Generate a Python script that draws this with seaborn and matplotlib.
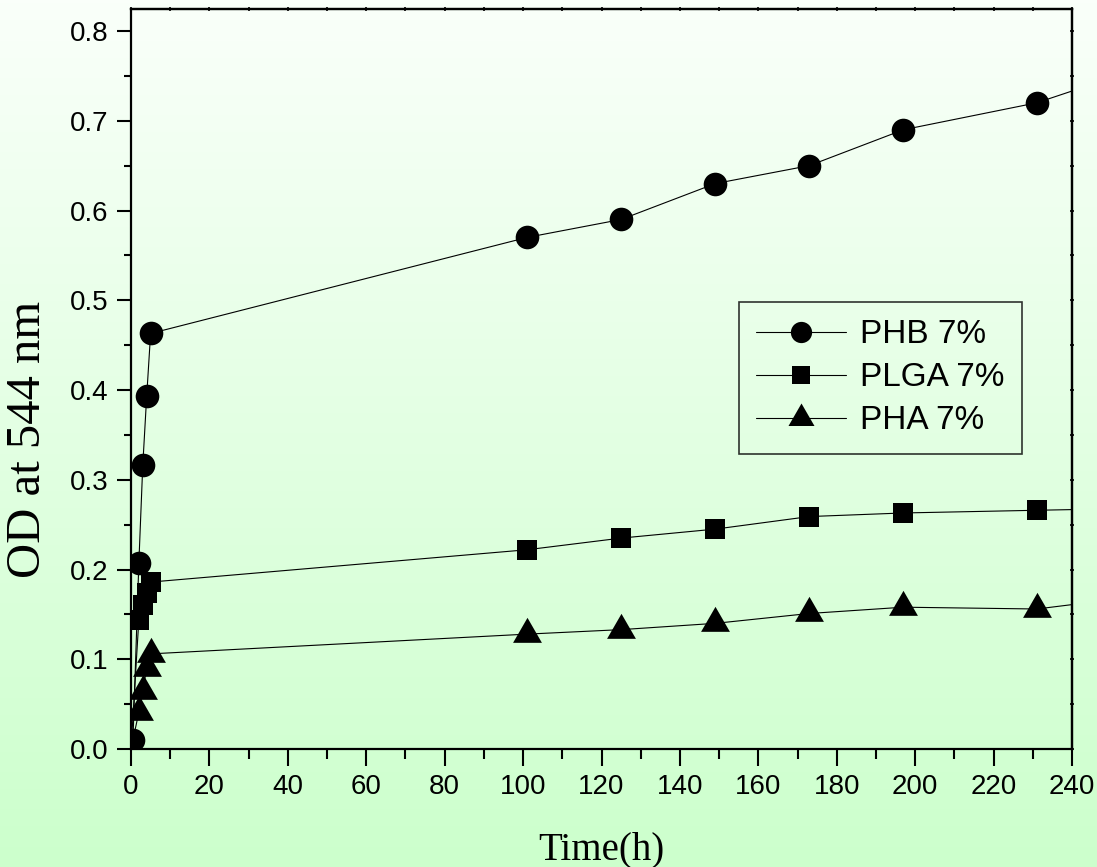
import numpy as np
import pandas as pd
import seaborn as sns

import matplotlib
# no display in the sandbox
matplotlib.use('Agg')
import matplotlib.pyplot as plt
from matplotlib.ticker import MultipleLocator
from matplotlib.colors import LinearSegmentedColormap

# time (h) and OD readings; the last point of each run lies past 240 h and is clipped
phb_time = [0.5, 2, 3, 4, 5, 101, 125, 149, 173, 197, 231, 255]
phb_od = [0.010, 0.207, 0.316, 0.393, 0.463, 0.570, 0.590, 0.630, 0.650, 0.690, 0.720, 0.755]

plga_time = [0, 2, 3, 4, 5, 101, 125, 149, 173, 197, 231, 255]
plga_od = [0.0, 0.144, 0.160, 0.174, 0.186, 0.222, 0.235, 0.245, 0.259, 0.263, 0.266, 0.268]

pha_time = [0, 2, 3, 4, 5, 101, 125, 149, 173, 197, 231, 255]
pha_od = [0.0, 0.041, 0.065, 0.090, 0.106, 0.128, 0.133, 0.140, 0.151, 0.158, 0.156, 0.169]

series_names = ["PHB 7%", "PLGA 7%", "PHA 7%"]


def build_frame():
    frames = []
    for name, t, od in zip(series_names,
                           [phb_time, plga_time, pha_time],
                           [phb_od, plga_od, pha_od]):
        frames.append(pd.DataFrame({"time": t, "od": od, "sample": name}))
    return pd.concat(frames, ignore_index=True)


df = build_frame()

sns.set_style("ticks")
plt.rcParams['font.family'] = ['Liberation Sans', 'DejaVu Sans']
for key in ['text.color', 'axes.labelcolor', 'xtick.color', 'ytick.color', 'axes.edgecolor']:
    plt.rcParams[key] = 'black'

fig = plt.figure(figsize=(10.97, 8.67), dpi=100)

# light green vertical gradient behind everything
bg = fig.add_axes([0, 0, 1, 1], zorder=-10)
grad = np.linspace(0, 1, 256).reshape(-1, 1)
cmap = LinearSegmentedColormap.from_list("bg", ["#fafffa", "#ccffcc"])
bg.imshow(grad, aspect='auto', cmap=cmap, extent=[0, 1, 0, 1], origin='upper')
bg.axis('off')

ax = fig.add_axes([131 / 1097, 1 - 749 / 867, 941 / 1097, 739.7 / 867])
ax.set_facecolor('none')

styles = {
    "PHB 7%": dict(marker='o', markersize=17, zorder=4),
    "PLGA 7%": dict(marker='s', markersize=15, zorder=3),
    "PHA 7%": dict(marker=(3, 0, 0), markersize=24, zorder=3),
}
for name in series_names:
    sub = df[df["sample"] == name]
    sns.lineplot(x="time", y="od", data=sub, ax=ax, color='black', linewidth=0.8,
                 markeredgewidth=0, errorbar=None, label=name, **styles[name])

ax.set_xlim(0, 240)
ax.set_ylim(0, 0.8242)
ax.xaxis.set_major_locator(MultipleLocator(20))
ax.xaxis.set_minor_locator(MultipleLocator(10))
ax.yaxis.set_minor_locator(MultipleLocator(0.05))
ax.set_yticks(np.arange(0, 0.81, 0.1))
ax.set_yticklabels([f"{v:.1f}" for v in np.arange(0, 0.81, 0.1)])

for s in ax.spines.values():
    s.set_linewidth(1.6)
    s.set_color('black')
ax.tick_params(axis='x', which='major', direction='out', length=12, width=1.5, labelsize=20, pad=6)
ax.tick_params(axis='x', which='minor', direction='out', length=7, width=1.5)
ax.tick_params(axis='y', which='major', direction='out', length=10, width=1.5, labelsize=20, pad=6)
ax.tick_params(axis='y', which='minor', direction='out', length=5, width=1.5)

# tiny ticks on the top and right frame
top = ax.secondary_xaxis('top')
top.xaxis.set_major_locator(MultipleLocator(20))
top.xaxis.set_minor_locator(MultipleLocator(10))
top.tick_params(which='both', direction='inout', length=3, width=1.2, labeltop=False)
top.spines['top'].set_linewidth(1.6)
right = ax.secondary_yaxis('right')
right.yaxis.set_major_locator(MultipleLocator(0.1))
right.yaxis.set_minor_locator(MultipleLocator(0.05))
right.tick_params(which='both', direction='inout', length=3, width=1.2, labelright=False)
right.spines['right'].set_linewidth(1.6)

ax.set_xlabel("Time(h)", family=['Liberation Serif', 'DejaVu Serif'], fontsize=28)
ax.set_ylabel("OD at 544 nm", family=['Liberation Serif', 'DejaVu Serif'], fontsize=35)
ax.xaxis.set_label_coords(0.5, -0.112)
ax.yaxis.set_label_coords(-0.086, 0.419)

leg = ax.legend(loc='upper left', bbox_to_anchor=((739 - 131) / 941, (749 - 302) / 739.7),
                borderaxespad=0, fontsize=24, frameon=True, fancybox=False,
                edgecolor='black', facecolor='none', framealpha=None,
                handlelength=2.7, handletextpad=0.4, labelspacing=0.36,
                borderpad=0.52, markerscale=0.9)
leg.get_frame().set_linewidth(1.2)

fig.savefig("out.png", dpi=100)
plt.close(fig)
